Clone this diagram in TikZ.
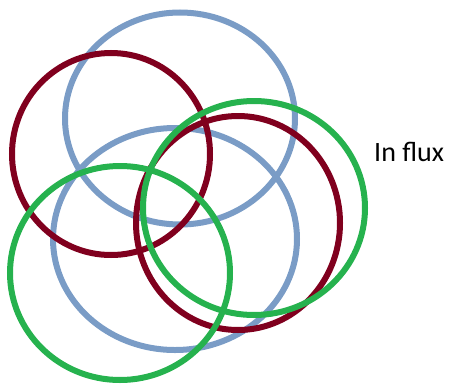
\documentclass[tikz,border=0pt]{standalone}
\usepackage{fontspec}
\setmainfont{Carlito}
\definecolor{ringblue}{RGB}{122,156,198}
\definecolor{ringred}{RGB}{128,0,30}
\definecolor{ringgreen}{RGB}{38,178,78}
\begin{document}
\begin{tikzpicture}[x=1pt,y=-1pt,
  ring/.style={line width=6pt}]
\useasboundingbox (0,0) rectangle (449,388);
\draw[ring,ringblue] (180,118.5) ellipse [x radius=115, y radius=106];
\draw[ring,ringblue] (175,239) ellipse [x radius=122, y radius=111];
\draw[ring,ringred] (111,154) ellipse [x radius=99, y radius=101];
\draw[ring,ringred] (238,223) ellipse [x radius=102, y radius=107];
\draw[ring,ringgreen] (254,208) ellipse [x radius=111, y radius=107];
\draw[ring,ringgreen] (120,273) ellipse [x radius=110, y radius=107];
\node[anchor=west,inner sep=0pt,font=\fontsize{28}{32}\selectfont] (lbl) at (374,152) {In flux};
\end{tikzpicture}
\end{document}
